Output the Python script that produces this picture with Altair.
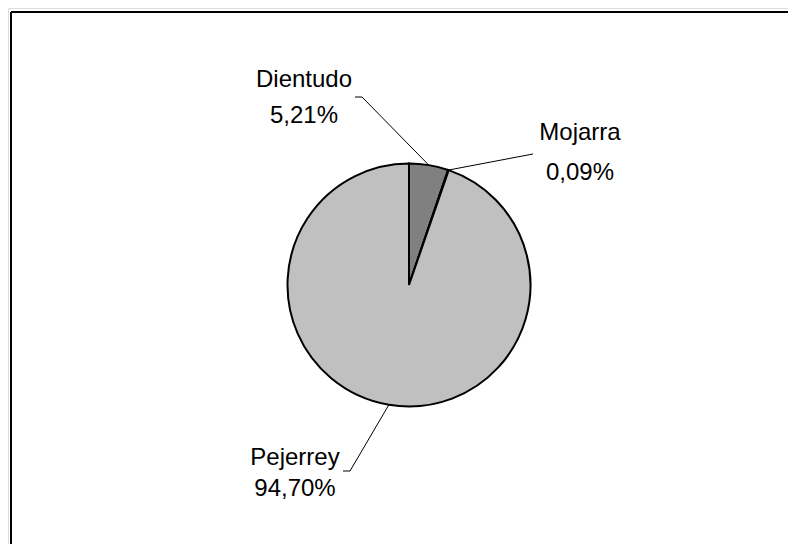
import math
import altair as alt
import pandas as pd

# ---- data ----
categories = ["Dientudo", "Mojarra", "Pejerrey"]
values = [5.21, 0.09, 94.70]
pct_labels = ["5,21%", "0,09%", "94,70%"]
colors = ["#808080", "#404040", "#C0C0C0"]

# ---- layout (plot-area pixels) ----
W, H = 780, 536
CX, CY, R = 401, 277, 121.5
# label centre x, baseline of name line, baseline of percent line (offsets from pie centre)
label_x = [-105, 171, -114]
name_base = [-198, -145, 180]
pct_base = [-162, -105, 211]
# leader bend / end points (offsets from pie centre)
leader_bend = [(-47, -188), (124, -131), (-59, 186)]
leader_end = [(-54, -188), (124, -131), (-66, 186)]

total = sum(values)
rows, texts, lead = [], [], []
cum = 0.0
for i, (c, v) in enumerate(zip(categories, values)):
    mid = (cum + v / 2) / total * 2 * math.pi
    cum += v
    ex, ey = CX + R * math.sin(mid), CY - R * math.cos(mid)
    rows.append({"cat": c, "value": v, "order": i})
    texts.append({"t": c, "tx": CX + label_x[i], "ty": CY + name_base[i]})
    texts.append({"t": pct_labels[i], "tx": CX + label_x[i], "ty": CY + pct_base[i]})
    pts = [(ex, ey), (CX + leader_bend[i][0], CY + leader_bend[i][1]),
           (CX + leader_end[i][0], CY + leader_end[i][1])]
    for k, (px, py) in enumerate(pts):
        lead.append({"cat": c, "k": k, "px": px, "py": py})

df = pd.DataFrame(rows)
tdf = pd.DataFrame(texts)
ldf = pd.DataFrame(lead)

xs = alt.Scale(domain=[0, W], range=[0, W])
ys = alt.Scale(domain=[0, H], range=[0, H])

pie = alt.Chart(df).mark_arc(
    radius=R, stroke="black", strokeWidth=2, x=CX, y=CY
).encode(
    theta=alt.Theta("value:Q", stack=True),
    color=alt.Color("cat:N", scale=alt.Scale(domain=categories, range=colors), legend=None),
    order=alt.Order("order:Q"),
)

leaders = alt.Chart(ldf).mark_line(color="black", strokeWidth=1).encode(
    x=alt.X("px:Q", scale=xs, axis=None),
    y=alt.Y("py:Q", scale=ys, axis=None),
    detail="cat:N",
    order="k:Q",
)

labels = alt.Chart(tdf).mark_text(
    font="Liberation Sans", fontSize=24,
    align="center", baseline="alphabetic", color="black"
).encode(
    x=alt.X("tx:Q", scale=xs, axis=None),
    y=alt.Y("ty:Q", scale=ys, axis=None),
    text="t:N",
)

border_top = alt.Chart(df).mark_rule(color="black", strokeWidth=2).encode(
    x=alt.value(3), x2=alt.value(W), y=alt.value(4)
)
border_left = alt.Chart(df).mark_rule(color="black", strokeWidth=2).encode(
    x=alt.value(3), y=alt.value(4), y2=alt.value(H)
)

chart = alt.layer(pie, leaders, labels, border_top, border_left).properties(
    width=W, height=H, padding=0, autosize=alt.AutoSizeParams(type="none")
).configure_view(stroke=None).configure(background="white")

chart.save("out.html", embed_options={"renderer": "svg", "actions": False})
